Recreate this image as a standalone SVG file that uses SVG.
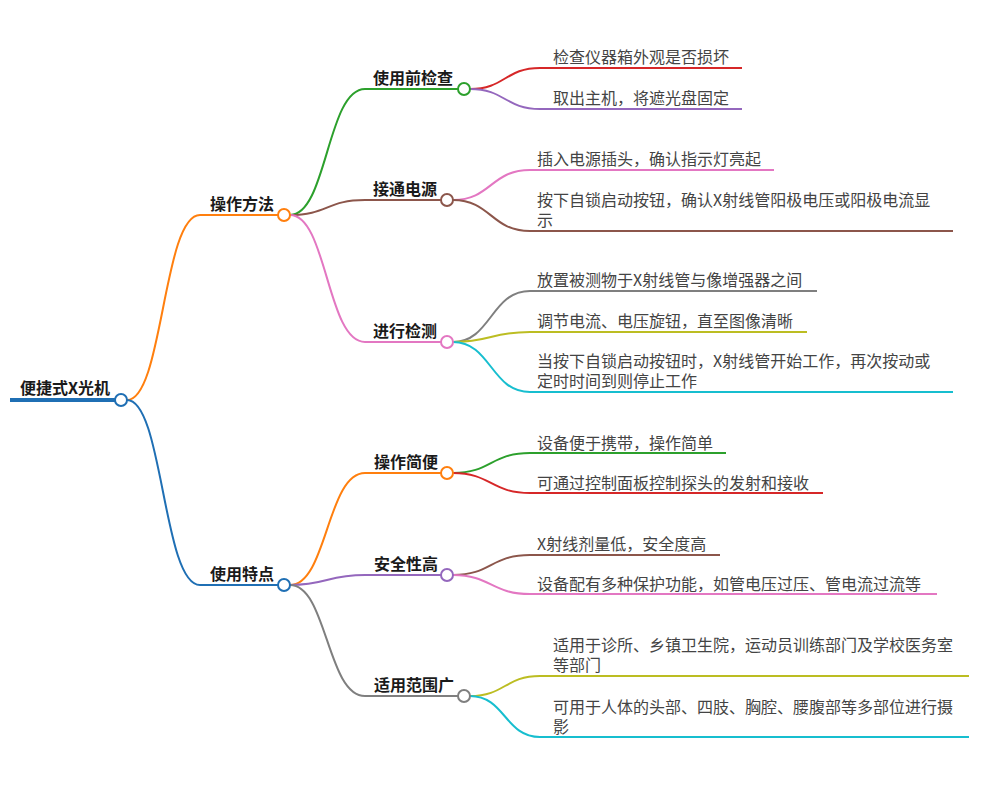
<svg xmlns="http://www.w3.org/2000/svg" width="1000" height="792" viewBox="0 0 1000 792">
<style>
text{font-family:"Noto Sans CJK SC","Liberation Sans",sans-serif;font-size:16px}
.n{font-weight:bold;fill:#1a1a1a}
.l{fill:#444}
.c{fill:none;stroke-width:2}
.dot{fill:#fff;stroke-width:2}
</style>
<rect width="1000" height="792" fill="#fff"/>
<g id="connectors" class="c">
<path d="M10,400 H115" stroke="#1f6fb4" stroke-width="4"/>
<path d="M127,400 C163,400 163,215 200,215 H278" stroke="#ff7f0e"/>
<path d="M127,400 C163,400 163,585 200,585 H278" stroke="#1f6fb4"/>
<path d="M290,215 C327,215 327,89 365,89 H458" stroke="#2ca02c"/>
<path d="M290,215 C327,215 327,200 365,200 H441" stroke="#8c564b"/>
<path d="M290,215 C327,215 327,342 365,342 H441" stroke="#e377c2"/>
<path d="M290,585 C327,585 327,473 365,473 H441" stroke="#ff7f0e"/>
<path d="M290,585 C327,585 327,575 365,575 H441" stroke="#9467bd"/>
<path d="M290,585 C327,585 327,696 365,696 H458" stroke="#7f7f7f"/>
<path d="M470,89 C505,89 505,68 540,68 H742" stroke="#d62728"/>
<path d="M470,89 C505,89 505,109 540,109 H742" stroke="#9467bd"/>
<path d="M453,200 C491,200 491,170 530,170 H774" stroke="#e377c2"/>
<path d="M453,200 C491,200 491,231 530,231 H953" stroke="#8c564b"/>
<path d="M453,342 C491,342 491,291 530,291 H817" stroke="#7f7f7f"/>
<path d="M453,342 C491,342 491,332 530,332 H807" stroke="#bcbd22"/>
<path d="M453,342 C491,342 491,392 530,392 H953" stroke="#17becf"/>
<path d="M453,473 C491,473 491,453 530,453 H726" stroke="#2ca02c"/>
<path d="M453,473 C491,473 491,493 530,493 H823" stroke="#d62728"/>
<path d="M453,575 C491,575 491,555 530,555 H720" stroke="#8c564b"/>
<path d="M453,575 C491,575 491,594 530,594 H937" stroke="#e377c2"/>
<path d="M470,696 C505,696 505,676 540,676 H969" stroke="#bcbd22"/>
<path d="M470,696 C505,696 505,737 540,737 H969" stroke="#17becf"/>
</g>
<g id="root"><text class="n" x="20" y="394">便捷式X光机</text><circle class="dot" cx="121" cy="400" r="6" stroke="#1f6fb4"/></g>
<g id="n1"><text class="n" x="210" y="210">操作方法</text><circle class="dot" cx="284" cy="215" r="6" stroke="#ff7f0e"/></g>
<g id="n2"><text class="n" x="210" y="580">使用特点</text><circle class="dot" cx="284" cy="585" r="6" stroke="#1f6fb4"/></g>
<g id="n11"><text class="n" x="373" y="84">使用前检查</text><circle class="dot" cx="464" cy="89" r="6" stroke="#2ca02c"/></g>
<g id="n12"><text class="n" x="373" y="195">接通电源</text><circle class="dot" cx="447" cy="200" r="6" stroke="#8c564b"/></g>
<g id="n13"><text class="n" x="373" y="337">进行检测</text><circle class="dot" cx="447" cy="342" r="6" stroke="#e377c2"/></g>
<g id="n21"><text class="n" x="374" y="468">操作简便</text><circle class="dot" cx="447" cy="473" r="6" stroke="#ff7f0e"/></g>
<g id="n22"><text class="n" x="374" y="570">安全性高</text><circle class="dot" cx="447" cy="575" r="6" stroke="#9467bd"/></g>
<g id="n23"><text class="n" x="374" y="691">适用范围广</text><circle class="dot" cx="464" cy="696" r="6" stroke="#7f7f7f"/></g>
<g id="l111"><text class="l" x="553" y="63">检查仪器箱外观是否损坏</text></g>
<g id="l112"><text class="l" x="553" y="104">取出主机，将遮光盘固定</text></g>
<g id="l121"><text class="l" x="537" y="165">插入电源插头，确认指示灯亮起</text></g>
<g id="l122"><text class="l" x="537" y="206">按下自锁启动按钮，确认X射线管阳极电压或阳极电流显<tspan x="537" y="226">示</tspan></text></g>
<g id="l131"><text class="l" x="537" y="286">放置被测物于X射线管与像增强器之间</text></g>
<g id="l132"><text class="l" x="537" y="327">调节电流、电压旋钮，直至图像清晰</text></g>
<g id="l133"><text class="l" x="537" y="367">当按下自锁启动按钮时，X射线管开始工作，再次按动或<tspan x="537" y="387">定时时间到则停止工作</tspan></text></g>
<g id="l211"><text class="l" x="537" y="449">设备便于携带，操作简单</text></g>
<g id="l212"><text class="l" x="537" y="489">可通过控制面板控制探头的发射和接收</text></g>
<g id="l221"><text class="l" x="537" y="550">X射线剂量低，安全度高</text></g>
<g id="l222"><text class="l" x="537" y="590">设备配有多种保护功能，如管电压过压、管电流过流等</text></g>
<g id="l231"><text class="l" x="553" y="651">适用于诊所、乡镇卫生院，运动员训练部门及学校医务室<tspan x="553" y="671">等部门</tspan></text></g>
<g id="l232"><text class="l" x="553" y="713">可用于人体的头部、四肢、胸腔、腰腹部等多部位进行摄<tspan x="553" y="733">影</tspan></text></g>
</svg>
